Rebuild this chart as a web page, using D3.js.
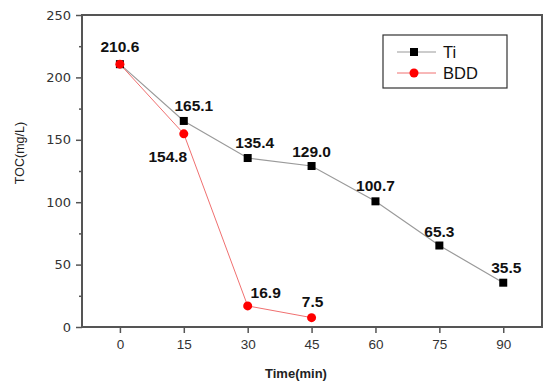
<!DOCTYPE html>
<html>
<head>
<meta charset="utf-8">
<script src="https://cdn.jsdelivr.net/npm/d3@7"></script>
<style>
body { margin: 0; background: #fff; }
text { font-family: Arial, "Liberation Sans", sans-serif; }
</style>
</head>
<body>
<div id="chart"></div>
<script>
var times = [0, 15, 30, 45, 60, 75, 90];
var tiValues = [210.6, 165.1, 135.4, 129.0, 100.7, 65.3, 35.5];
var bddTimes = [0, 15, 30, 45];
var bddValues = [210.6, 154.8, 16.9, 7.5];
var yTicks = [0, 50, 100, 150, 200, 250];
var tiLabels = ["210.6", "165.1", "135.4", "129.0", "100.7", "65.3", "35.5"];
var bddLabels = ["", "154.8", "16.9", "7.5"];

var margin = {top: 15, right: 4, bottom: 59, left: 82},
    width = 546 - margin.left - margin.right,
    height = 386 - margin.top - margin.bottom;

var svg = d3.select("#chart").append("svg")
    .attr("width", 546)
    .attr("height", 386);

var g = svg.append("g")
    .attr("transform", "translate(" + margin.left + "," + margin.top + ")");

var x = d3.scaleLinear().domain([-8.9, 99.1]).range([0, width]);
var y = d3.scaleLinear().domain([0, 250]).range([height, 0]);

// frame
g.append("rect")
    .attr("width", width).attr("height", height)
    .attr("fill", "none").attr("stroke", "#555").attr("stroke-width", 2);

// y axis
var yAxis = g.append("g")
    .call(d3.axisLeft(y).tickValues(yTicks).tickSize(6).tickPadding(5));
yAxis.select(".domain").remove();
yAxis.selectAll("line").attr("stroke", "#555").attr("stroke-width", 1.5);
yAxis.selectAll("text").attr("font-size", 13).attr("fill", "#333")
    .style("font-family", "'DejaVu Sans', sans-serif");
g.append("g")
    .call(d3.axisLeft(y).tickValues([25, 75, 125, 175, 225]).tickSize(3).tickFormat(""))
    .call(function(a) { a.select(".domain").remove(); })
    .selectAll("line").attr("stroke", "#555").attr("stroke-width", 1.5);

// x axis
var xAxis = g.append("g")
    .attr("transform", "translate(0," + height + ")")
    .call(d3.axisBottom(x).tickValues(times).tickSize(6).tickPadding(6));
xAxis.select(".domain").remove();
xAxis.selectAll("line").attr("stroke", "#555").attr("stroke-width", 1.5);
xAxis.selectAll("text").attr("font-size", 13.5).attr("fill", "#333");

// axis titles
svg.append("text")
    .attr("x", 296).attr("y", 378)
    .attr("text-anchor", "middle")
    .attr("font-size", 13).attr("font-weight", "bold").attr("fill", "#222")
    .text("Time(min)");
svg.append("text")
    .attr("transform", "translate(24,153) rotate(-90)")
    .attr("text-anchor", "middle")
    .attr("font-size", 12.5).attr("fill", "#222")
    .text("TOC(mg/L)");

var line = d3.line()
    .x(function(d) { return x(d[0]); })
    .y(function(d) { return y(d[1]); });

var tiData = times.map(function(t, i) { return [t, tiValues[i]]; });
var bddData = bddTimes.map(function(t, i) { return [t, bddValues[i]]; });

g.append("path").datum(tiData)
    .attr("d", line).attr("fill", "none")
    .attr("stroke", "#9a9a9a").attr("stroke-width", 1.2);
g.append("path").datum(bddData)
    .attr("d", line).attr("fill", "none")
    .attr("stroke", "#f07070").attr("stroke-width", 1);

g.selectAll(".ti").data(tiData).enter().append("rect")
    .attr("class", "ti")
    .attr("x", function(d) { return x(d[0]) - 4; })
    .attr("y", function(d) { return y(d[1]) - 4; })
    .attr("width", 8).attr("height", 8)
    .attr("fill", "#000");
g.selectAll(".bdd").data(bddData).enter().append("circle")
    .attr("class", "bdd")
    .attr("cx", function(d) { return x(d[0]); })
    .attr("cy", function(d) { return y(d[1]); })
    .attr("r", 4.5)
    .attr("fill", "#f00");

// value labels (offsets in px, to baseline)
var tiOff = [[0, -12], [10, -10], [7, -10], [0, -9], [0, -10], [0, -9], [3, -10]];
var bddOff = [[0, 0], [-16, 28], [18, -8], [1, -11]];

g.selectAll(".tiLab").data(tiData).enter().append("text")
    .attr("class", "tiLab")
    .attr("x", function(d, i) { return x(d[0]) + tiOff[i][0]; })
    .attr("y", function(d, i) { return y(d[1]) + tiOff[i][1]; })
    .attr("text-anchor", "middle")
    .attr("font-size", 15.5).attr("font-weight", "bold").attr("fill", "#111")
    .text(function(d, i) { return tiLabels[i]; });
g.selectAll(".bddLab").data(bddData).enter().append("text")
    .attr("class", "bddLab")
    .attr("x", function(d, i) { return x(d[0]) + bddOff[i][0]; })
    .attr("y", function(d, i) { return y(d[1]) + bddOff[i][1]; })
    .attr("text-anchor", "middle")
    .attr("font-size", 15.5).attr("font-weight", "bold").attr("fill", "#111")
    .text(function(d, i) { return bddLabels[i]; });

// legend
var legend = svg.append("g").attr("transform", "translate(383,35)");
legend.append("rect")
    .attr("width", 124).attr("height", 53)
    .attr("fill", "#fff").attr("stroke", "#333").attr("stroke-width", 1.2);
var ti = legend.append("g").attr("transform", "translate(0,17)");
ti.append("line").attr("x1", 14).attr("x2", 53).attr("stroke", "#9a9a9a").attr("stroke-width", 1.2);
ti.append("rect").attr("x", 27).attr("y", -4).attr("width", 8).attr("height", 8).attr("fill", "#000");
ti.append("text").attr("x", 60).attr("y", 6).attr("font-size", 16.5).attr("fill", "#111").text("Ti");
var bdd = legend.append("g").attr("transform", "translate(0,38)");
bdd.append("line").attr("x1", 14).attr("x2", 53).attr("stroke", "#f07070").attr("stroke-width", 1);
bdd.append("circle").attr("cx", 31).attr("r", 4.5).attr("fill", "#f00");
bdd.append("text").attr("x", 60).attr("y", 6).attr("font-size", 16.5).attr("fill", "#111").text("BDD");
</script>
</body>
</html>
